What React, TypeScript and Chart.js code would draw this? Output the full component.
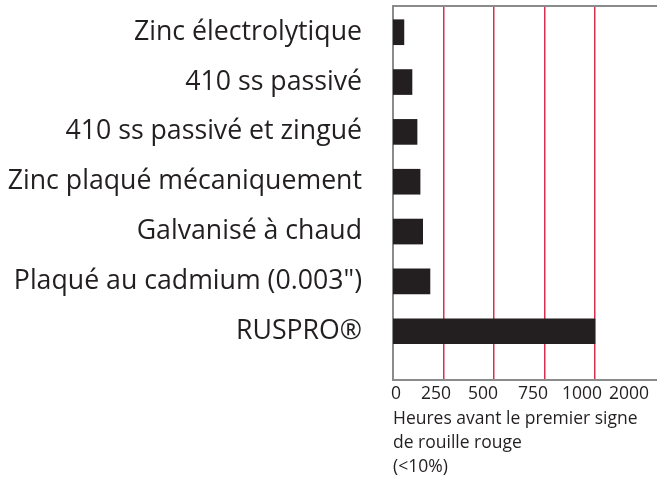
import React, { useEffect, useRef } from "react";
import { Chart, registerables } from "chart.js";

Chart.register(...registerables);

const categories = [
  "Zinc électrolytique",
  "410 ss passivé",
  "410 ss passivé et zingué",
  "Zinc plaqué mécaniquement",
  "Galvanisé à chaud",
  'Plaqué au cadmium (0.003")',
  "RUSPRO®",
];
const hours = [54, 94, 119, 134, 147, 183, 1000];
const gridValues = [250, 500, 750, 1000];
const tickLabels = ["0", "250", "500", "750", "1000", "2000"];
const tickLabelValues = [15, 213, 446, 693, 936, 1168];
const axisTitle = ["Heures avant le premier signe", "de rouille rouge", "(<10%)"];

const FONT = "'Open Sans', 'Noto Sans', sans-serif";
const TEXT = "#231f20";
const BORDER = "#8a8c8c";
const RED = "rgba(208, 12, 48, 0.85)";

export default function App() {
  const ref = useRef<HTMLCanvasElement | null>(null);

  useEffect(() => {
    if (!ref.current) return;
    const chart = new Chart(ref.current, {
      type: "bar",
      data: {
        datasets: [
          {
            data: hours.map((v, i) => ({ x: v, y: i })),
            backgroundColor: TEXT,
            borderWidth: 0,
            barThickness: 25,
            xAxisID: "x",
            yAxisID: "y",
          },
        ],
      },
      options: {
        indexAxis: "y",
        responsive: false,
        animation: false,
        layout: { padding: { left: 0, right: 0, top: 6, bottom: 0 } },
        plugins: { legend: { display: false }, tooltip: { enabled: false } },
        scales: {
          x: {
            type: "linear",
            position: "bottom",
            min: 0,
            max: 1307,
            z: 1,
            afterBuildTicks: (scale: any) => {
              scale.ticks = gridValues.map((v) => ({ value: v }));
            },
            grid: { display: true, color: RED, lineWidth: 1.5, drawTicks: false },
            border: { display: true, color: BORDER, width: 2 },
            ticks: { display: false },
          },
          x2: {
            type: "linear",
            position: "bottom",
            min: 0,
            max: 1307,
            afterBuildTicks: (scale: any) => {
              scale.ticks = tickLabelValues.map((v) => ({ value: v }));
            },
            grid: { display: false, drawTicks: false },
            border: { display: false },
            ticks: {
              padding: 3,
              maxRotation: 0,
              autoSkip: false,
              color: TEXT,
              font: { family: FONT, size: 17.5 },
              callback: (_v: any, i: number) => tickLabels[i],
            },
            title: {
              display: true,
              text: axisTitle,
              align: "start",
              color: TEXT,
              font: { family: FONT, size: 17.5, lineHeight: 1.37 },
              padding: { top: 0, bottom: 0 },
            },
          },
          xTop: {
            type: "linear",
            position: "top",
            min: 0,
            max: 1307,
            grid: { display: false, drawTicks: false },
            border: { display: true, color: BORDER, width: 2 },
            ticks: { display: false },
          },
          y: {
            type: "linear",
            reverse: true,
            offset: false,
            bounds: "data",
            min: -0.526,
            max: 6.98,
            afterBuildTicks: (scale: any) => {
              scale.ticks = categories.map((_, i) => ({ value: i }));
            },
            afterFit: (scale: any) => {
              scale.width = 393;
              scale.paddingTop = 0;
              scale.paddingBottom = 0;
            },
            grid: { display: false, drawTicks: false, offset: false },
            border: { display: true, color: BORDER, width: 2 },
            ticks: {
              padding: 31,
              autoSkip: false,
              color: TEXT,
              font: { family: FONT, size: 26.7 },
              callback: (_v: any, i: number) => categories[i],
            },
          },
        },
      },
    } as any);
    return () => chart.destroy();
  }, []);

  return (
    <div style={{ position: "fixed", left: 0, top: 0, width: 657, height: 479, background: "#fff" }}>
      <canvas ref={ref} width={657} height={479} style={{ display: "block" }} />
    </div>
  );
}
